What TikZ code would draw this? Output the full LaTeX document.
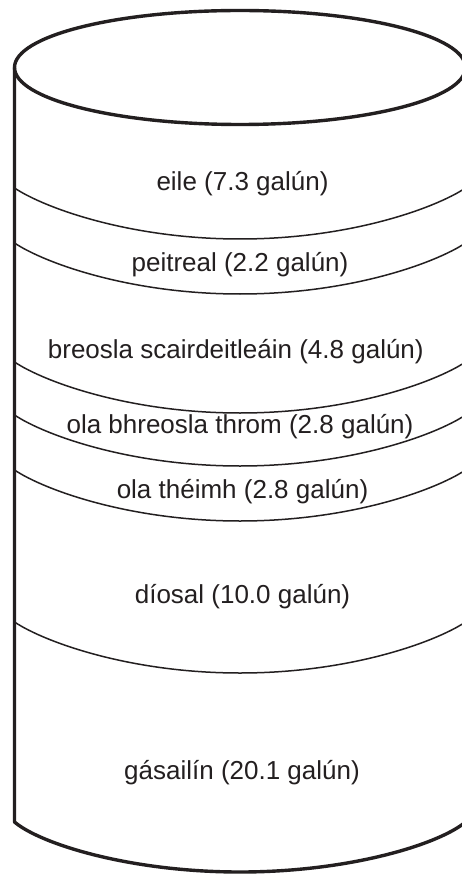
\documentclass[tikz,border=0pt]{standalone}
\usepackage{fontspec}
\setmainfont{Liberation Sans}
\definecolor{ink}{HTML}{231F20}
\begin{document}
\begin{tikzpicture}[x=1pt,y=-1pt,
  outer/.style={draw=ink, line width=3.4pt, line join=round},
  layer/.style={draw=ink, line width=1.5pt},
  lbl/.style={anchor=base, text=ink, font=\fontsize{26}{30}\selectfont, inner sep=0pt}]
\useasboundingbox (0,0) rectangle (462,874);
\fill[white] (0,0) rectangle (462,874);
\clip (0,0) rectangle (462,874);
% layer boundaries
\foreach \s in {188,243,362,415,470,622} {
  \draw[layer] (14.5,\s) .. controls (44.5,\s+20) and (130,\s+51) .. (240,\s+51)
                         .. controls (350,\s+51) and (435.5,\s+20) .. (465.5,\s);
}
% cylinder body
\draw[outer] (14.5,67.5) -- (14.5,822) .. controls (40.5,844) and (130,872) .. (240,872)
             .. controls (350,872) and (439.5,844) .. (465.5,822) -- (465.5,67.5);
\draw[outer] (240,67.5) ellipse [x radius=225.5, y radius=57];
% labels
\node[lbl] (eile) at (242.5,190.8) {eile (7.3 galún)};
\node[lbl] (peitreal) at (240,271.3) {peitreal (2.2 galún)};
\node[lbl] (breosla) at (235.8,358) {breosla scairdeitleáin (4.8 galún)};
\node[lbl] (throm) at (240,433.5) {ola bhreosla throm (2.8 galún)};
\node[lbl] (theimh) at (242.5,498) {ola théimh (2.8 galún)};
\node[lbl] (diosal) at (242.5,603) {díosal (10.0 galún)};
\node[lbl] (gasailin) at (242,779.5) {gásailín (20.1 galún)};
\end{tikzpicture}
\end{document}
